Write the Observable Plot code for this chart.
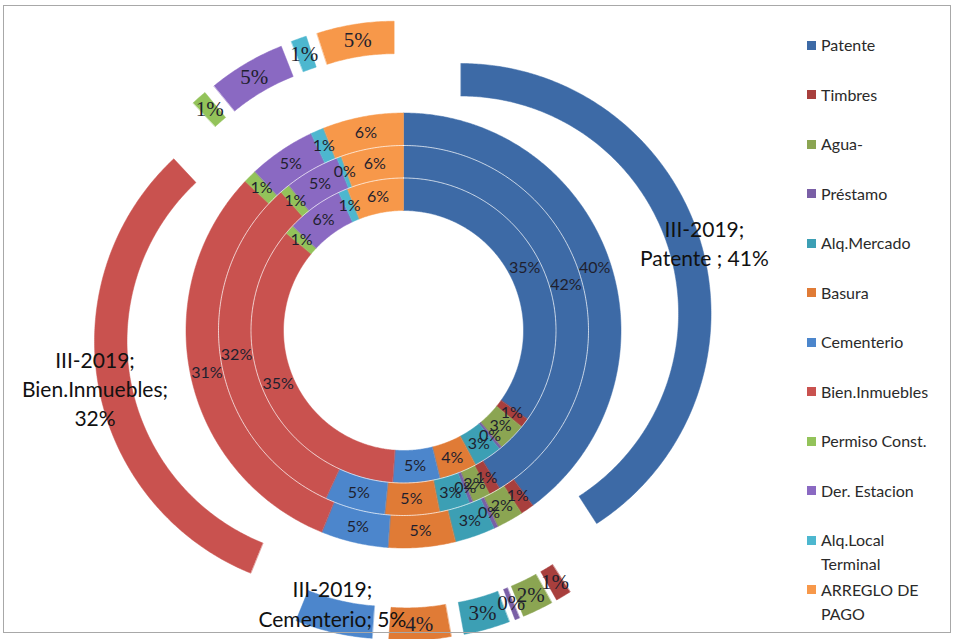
<!DOCTYPE html>
<html>
<head>
<meta charset="utf-8">
<script src="https://cdn.jsdelivr.net/npm/d3@7"></script>
<script src="https://cdn.jsdelivr.net/npm/@observablehq/plot@0.6"></script>
<style>
  body { margin: 0; background: #fff; }
  #wrap { position: relative; width: 955px; height: 639px; overflow: hidden; background: #fff; font-family: Lato, "Open Sans", sans-serif; }
  #wrap svg { position: absolute; left: 0; top: 0; }
  #border { position: absolute; left: 3px; top: 5px; width: 946px; height: 626px; border: 1px solid #a8a8a8; pointer-events: none; }
  .lg { position: absolute; font-size: 16px; color: #2a2a2a; line-height: 24px; white-space: pre; }
  .mk { position: absolute; width: 9px; height: 9px; }
</style>
</head>
<body>
<div id="wrap"><div id="border"></div></div>
<script>
// ---- data ----
const categories = ["Patente", "Timbres", "Agua-", "Préstamo", "Alq.Mercado", "Basura",
  "Cementerio", "Bien.Inmuebles", "Permiso Const.", "Der. Estacion", "Alq.Local Terminal", "ARREGLO DE PAGO"];
const colors = ["#3d6aa6", "#a83f3d", "#8ba552", "#7a5fa6", "#3c9fb4", "#e07b36",
  "#4c86cc", "#c9524f", "#93c35a", "#8a69c2", "#4db7cf", "#f7984a"];
// rings from the innermost outwards (percent of each ring)
const ring1 = [35, 1, 3, 0.3, 3, 4, 5, 35, 1, 6, 1, 6];
const ring2 = [41.6, 1, 1.6, 0.3, 2.7, 4.8, 5.3, 31.8, 0.9, 4.8, 0.4, 5.5];
const ring3 = [40, 1, 2, 0.3, 3, 5, 5, 31, 1, 5, 1, 6];
const ringOuter = [41, 1, 2, 0.3, 3, 4, 5, 32, 1, 5, 1, 5];
const outerSeries = "III-2019";
const namedOuter = ["Patente", "Bien.Inmuebles", "Cementerio"];

// ---- layout ----
const W = 955, H = 639, cx = 403, cy = 330;
const R = [120, 152.5, 185, 217.5, 250];
const explode = 60;

function namedText(cat, v) {
  if (cat === "Patente") return `${outerSeries};\nPatente ; ${v}%`;
  if (cat === "Bien.Inmuebles") return `${outerSeries};\nBien.Inmuebles;\n${v}%`;
  return `${outerSeries};\n${cat}; ${v}%`;
}

const rings = [ring1, ring2, ring3, ringOuter];
const arcPts = [], innerLabels = [], outerSmall = [], outerNamed = [];
rings.forEach((vals, ri) => {
  const total = d3.sum(vals);
  const r0 = R[ri], r1 = R[ri + 1];
  const ex = ri === 3 ? explode : 0;
  let acc = 0;
  vals.forEach((v, ci) => {
    const a0 = acc / total * 2 * Math.PI; acc += v;
    const a1 = acc / total * 2 * Math.PI;
    const am = (a0 + a1) / 2;
    const ox = ex * Math.sin(am), oy = -ex * Math.cos(am);
    const n = Math.max(2, Math.ceil((a1 - a0) / (Math.PI / 360)));
    const key = ri + "-" + ci, cat = categories[ci];
    for (let k = 0; k <= n; k++) {
      const a = a0 + (a1 - a0) * k / n;
      arcPts.push({key, cat, x: ox + r1 * Math.sin(a), y: oy - r1 * Math.cos(a)});
    }
    for (let k = n; k >= 0; k--) {
      const a = a0 + (a1 - a0) * k / n;
      arcPts.push({key, cat, x: ox + r0 * Math.sin(a), y: oy - r0 * Math.cos(a)});
    }
    const label = Math.round(v);
    if (ri < 3) {
      const rm = (r0 + r1) / 2;
      innerLabels.push({x: rm * Math.sin(am), y: -rm * Math.cos(am), text: label + "%"});
    } else {
      const rm = (r0 + r1) / 2 + ex;
      if (namedOuter.includes(cat)) {
        const text = namedText(cat, label);
        const lines = text.split("\n").length;
        const rr = rm + 20;
        let y = -rr * Math.cos(am);
        const maxY = (H - 6 - cy) - lines * 29 / 2 - 2;
        y = Math.min(y, maxY);
        outerNamed.push({x: rr * Math.sin(am), y, text});
      } else {
        outerSmall.push({x: rm * Math.sin(am), y: -rm * Math.cos(am), text: label + "%"});
      }
    }
  });
});

// ring separators
const sepPts = [];
[R[1], R[2]].forEach((r, i) => {
  for (let k = 0; k <= 720; k++) {
    const a = k / 720 * 2 * Math.PI;
    sepPts.push({ring: i, x: r * Math.sin(a), y: -r * Math.cos(a)});
  }
});

const chart = Plot.plot({
  width: W, height: H, margin: 0,
  style: {fontFamily: "Lato, 'Open Sans', sans-serif", background: "transparent"},
  x: {domain: [-cx, W - cx], range: [0, W], axis: null},
  y: {domain: [-cy, H - cy], range: [0, H], axis: null},
  color: {domain: categories, range: colors},
  marks: [
    Plot.line(arcPts, {x: "x", y: "y", z: "key", fill: "cat", stroke: "cat", strokeWidth: 0.5, curve: "linear-closed"}),
    Plot.line(sepPts, {x: "x", y: "y", z: "ring", stroke: "white", strokeWidth: 1, strokeOpacity: 0.7, curve: "linear-closed"}),
    Plot.text(innerLabels, {x: "x", y: "y", text: "text", fontSize: 16, fill: "#1f1f2e"}),
    Plot.text(outerSmall, {x: "x", y: "y", text: "text", fontSize: 21, fill: "#1f1f2e", fontFamily: "'Liberation Serif', serif"}),
    Plot.text(outerNamed, {x: "x", y: "y", text: "text", fontSize: 21, lineHeight: 1.4, fill: "#111"})
  ]
});
const wrap = document.getElementById("wrap");
wrap.insertBefore(chart, wrap.firstChild);

// legend (right side)
const legX = 807, legY0 = 45, legStep = 49.5;
categories.forEach((c, i) => {
  const yc = legY0 + i * legStep;
  const mk = document.createElement("div");
  mk.className = "mk";
  mk.style.left = legX + "px";
  mk.style.top = (yc - 4.5) + "px";
  mk.style.background = colors[i];
  wrap.appendChild(mk);
  let txt = c;
  if (c.length > 14) { const p = c.lastIndexOf(" "); txt = c.slice(0, p) + "\n" + c.slice(p + 1); }
  const t = document.createElement("div");
  t.className = "lg";
  t.style.left = (legX + 14) + "px";
  t.style.top = (yc - 12) + "px";
  t.textContent = txt;
  wrap.appendChild(t);
});
</script>
</body>
</html>
